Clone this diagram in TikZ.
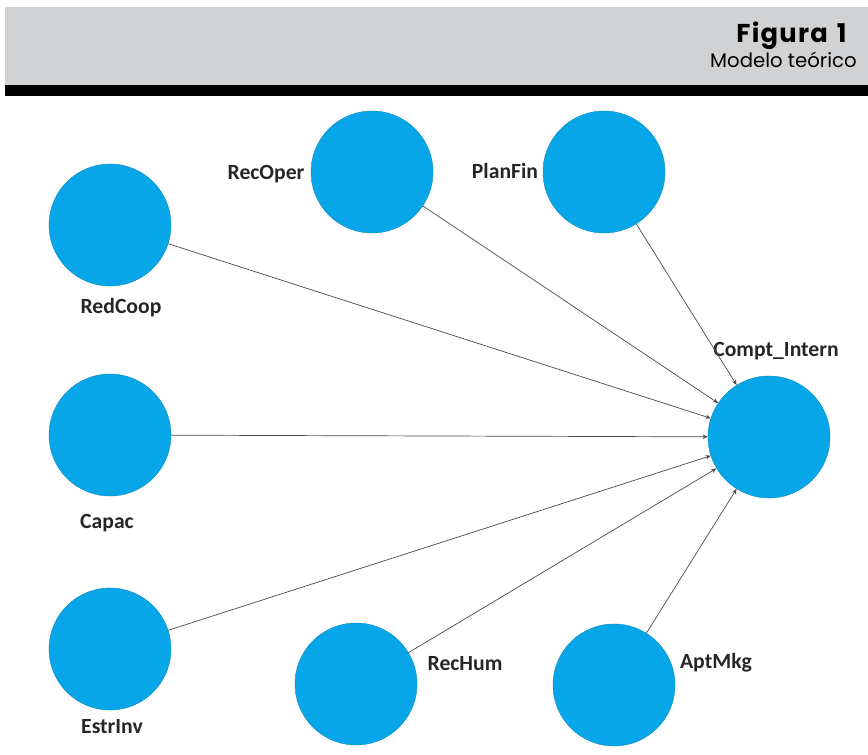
\documentclass[tikz,border=0pt]{standalone}
\usepackage{fontspec}
\setmainfont{Carlito}
\newfontfamily\headfont{Poppins}
\usetikzlibrary{arrows.meta, positioning}
\definecolor{cblue}{HTML}{07A6E9}
\definecolor{cband}{HTML}{D1D2D4}
\definecolor{cline}{HTML}{4A4A4A}
\tikzset{
  every picture/.style={line width=0.6pt},
  latent/.style={circle, draw=cblue!80!black, line width=0.3pt, fill=cblue, minimum size=3.66cm, inner sep=0pt},
  tag/.style={font=\bfseries\fontsize{18.5}{22}\selectfont, text=black!85, inner sep=0pt, anchor=base},
  link/.style={-{Stealth[length=1.6mm, width=1.3mm]}, draw=cline, line width=0.6pt},
  head/.style={font=\headfont, inner sep=0pt, anchor=base east},
}

\begin{document}
\begin{tikzpicture}[x=0.03cm, y=-0.03cm]
  \useasboundingbox (0,0) rectangle (868,754);
  % title band
  \fill[cband] (5,7) rectangle (868,85);
  \fill[black] (5,85) rectangle (868,96);
  \node[head, font=\headfont\bfseries\fontsize{22}{26}\selectfont\addfontfeature{LetterSpace=5}] (fig) at (847,42) {Figura\hspace{0.35em}1};
  \node[head, font=\headfont\fontsize{16.8}{20}\selectfont] (caption) at (857,67) {Modelo teórico};
  \newcommand{\latent}[6]{% id, x, y, label x, label y, name
    \node[latent] (#1) at (#2,#3) {};
    \node[tag] (#1-tag) at (#4,#5) {#6};}
  \latent{redcoop}{110}{225}{121}{313}{RedCoop}
  \latent{recoper}{372}{172}{266}{179}{RecOper}
  \latent{planfin}{604}{172}{505}{178}{PlanFin}
  \latent{compt}{769}{437}{776}{356}{Compt\_Intern}
  \latent{capac}{110}{435}{107}{528}{Capac}
  \latent{estrinv}{110}{649}{112}{733}{EstrInv}
  \latent{rechum}{356}{684}{465}{670}{RecHum}
  \latent{aptmkg}{614}{685}{716}{668}{AptMkg}
  \foreach \n in {redcoop, recoper, planfin, capac, estrinv, rechum, aptmkg}
    \draw[link] (\n) -- (compt);
\end{tikzpicture}
\end{document}
